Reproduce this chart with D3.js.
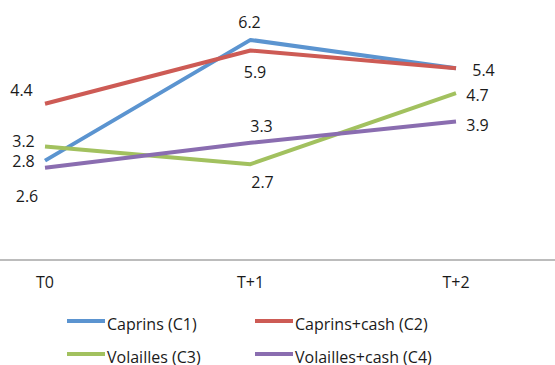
<!DOCTYPE html>
<html>
<head>
<meta charset="utf-8">
<script src="https://cdn.jsdelivr.net/npm/d3@7"></script>
<style>
  html, body { margin: 0; padding: 0; background: #fff; }
  svg { display: block; }
  text { font-family: "Open Sans", "Noto Sans", sans-serif; fill: #1a1a1a; }
</style>
</head>
<body>
<svg id="chart" width="555" height="365"></svg>
<script>
// Periods and series values
const periods = ["T0", "T+1", "T+2"];
const seriesNames = ["Caprins (C1)", "Caprins+cash (C2)", "Volailles (C3)", "Volailles+cash (C4)"];
const caprins = [2.8, 6.2, 5.4];
const caprinsCash = [4.4, 5.9, 5.4];
const volailles = [3.2, 2.7, 4.7];
const volaillesCash = [2.6, 3.3, 3.9];

const colors = ["#5b94d0", "#cd5b55", "#a2c15f", "#8a6db0"];

// Label placement per series and period: [dx, dy] from the point (null = no label)
const labelOffsets = [
  [[-21.5, 6], [-1, -12], [27.5, 7.5]],
  [[-23.5, -8], [4.5, 27.5], null],
  [[-21.5, 0.5], [12, 24], [21.5, 8]],
  [[-18, 34.5], [11, -11], [21.5, 9.5]]
];

const series = [caprins, caprinsCash, volailles, volaillesCash].map((values, i) => ({
  name: seriesNames[i], color: colors[i], values, offsets: labelOffsets[i]
}));

const svg = d3.select("#chart");
const W = 555;
const FONT = 16;

const x = d3.scalePoint().domain(periods).range([45, 456]);
const y = d3.scaleLinear().domain([0, 7]).range([260, 11.5]);

// Baseline axis across the full width
svg.append("line")
  .attr("x1", 0).attr("x2", W)
  .attr("y1", y(0)).attr("y2", y(0))
  .attr("stroke", "#a6a6a6").attr("stroke-width", 1.5);

// Category labels
svg.append("g").selectAll("text")
  .data(periods).join("text")
  .attr("x", d => x(d)).attr("y", 288)
  .attr("text-anchor", "middle")
  .attr("font-size", FONT)
  .text(d => d);

// Lines
const line = d3.line().x((d, i) => x(periods[i])).y(d => y(d));
svg.append("g").selectAll("path")
  .data(series).join("path")
  .attr("d", s => line(s.values))
  .attr("fill", "none")
  .attr("stroke", s => s.color)
  .attr("stroke-width", 4)
  .attr("stroke-linejoin", "round");

// Data labels
const labels = [];
series.forEach(s => s.values.forEach((v, i) => {
  if (s.offsets[i]) labels.push({ v, p: periods[i], o: s.offsets[i] });
}));
svg.append("g").selectAll("text")
  .data(labels).join("text")
  .attr("x", d => x(d.p) + d.o[0])
  .attr("y", d => y(d.v) + d.o[1])
  .attr("text-anchor", "middle")
  .attr("font-size", FONT)
  .text(d => d3.format(".1f")(d.v));

// Legend (2 x 2)
const legend = svg.append("g");
const lx = [67, 255], ly = [321, 354];
series.forEach((s, i) => {
  const cx = lx[i % 2], cy = ly[Math.floor(i / 2)];
  legend.append("line")
    .attr("x1", cx).attr("x2", cx + 38)
    .attr("y1", cy).attr("y2", cy)
    .attr("stroke", s.color).attr("stroke-width", 4);
  legend.append("text")
    .attr("x", cx + 40).attr("y", cy + 9)
    .attr("font-size", FONT)
    .text(s.name);
});
</script>
</body>
</html>
